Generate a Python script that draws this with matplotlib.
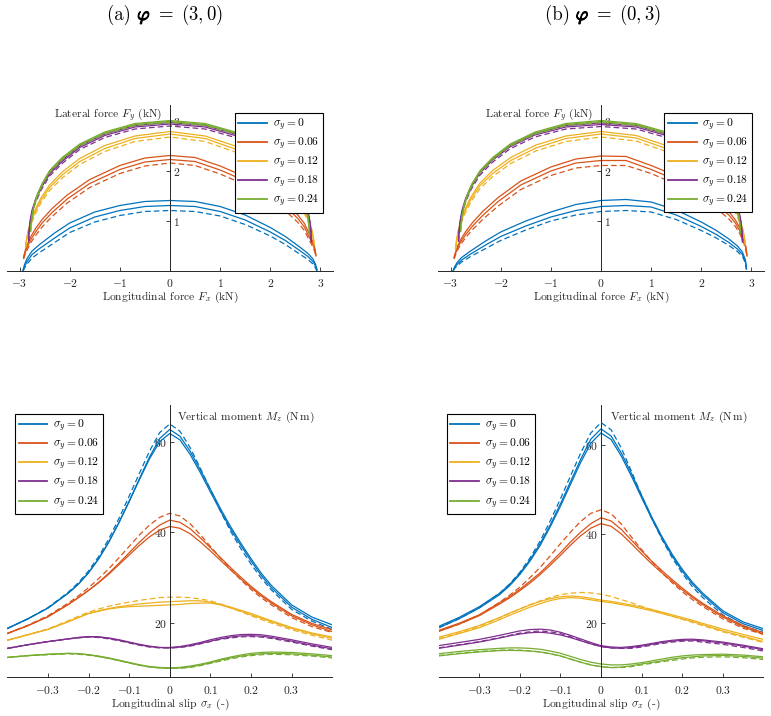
import matplotlib
matplotlib.use('Agg')
import matplotlib.pyplot as plt
from matplotlib.lines import Line2D
from matplotlib.offsetbox import TextArea, HPacker, AnchoredOffsetbox
from matplotlib import patheffects

plt.rcParams['font.family'] = 'serif'
plt.rcParams['font.serif'] = ['cmr10']
plt.rcParams['mathtext.fontset'] = 'cm'
plt.rcParams['axes.formatter.use_mathtext'] = True

# ---------------- data ----------------
COLORS = ['#0072BD', '#D95319', '#EDB120', '#7E2F8E', '#77AC30']
SIGMA_Y = ['0', '0.06', '0.12', '0.18', '0.24']
TITLE_TAGS = ['(a)', '(b)']
TITLE_PHI = ['(3,0)', '(0,3)']

XT_TOP = [-3, -2, -1, 0, 1, 2, 3]
YT_TOP = [1, 2, 3]
XT_BOT = [-0.3, -0.2, -0.1, 0, 0.1, 0.2, 0.3]
YT_BOT = [20, 40, 60]

# panel (a): lateral force Fy vs longitudinal force Fx (kN)
A_X_BLUE = [-2.93, -2.9, -2.85, -2.75, -2.6, -2.3, -2.0, -1.5, -1.0, -0.5, 0.0, 0.5, 1.0, 1.5, 2.0, 2.3, 2.6, 2.75, 2.85, 2.9, 2.93]
A_BLUE_1 = [0.02, 0.13, 0.25, 0.40, 0.53, 0.76, 0.96, 1.18, 1.31, 1.39, 1.41, 1.39, 1.29, 1.12, 0.87, 0.69, 0.47, 0.35, 0.24, 0.14, 0.03]
A_BLUE_2 = [0.01, 0.09, 0.19, 0.33, 0.45, 0.66, 0.86, 1.08, 1.21, 1.29, 1.31, 1.29, 1.19, 1.02, 0.78, 0.61, 0.40, 0.29, 0.19, 0.10, 0.01]
A_BLUE_D = [0.00, 0.06, 0.14, 0.26, 0.37, 0.57, 0.77, 0.98, 1.11, 1.19, 1.21, 1.19, 1.10, 0.93, 0.70, 0.53, 0.33, 0.23, 0.14, 0.06, 0.00]

A_X_ORANGE = [-2.92, -2.89, -2.85, -2.78, -2.68, -2.55, -2.35, -2.05, -1.6, -1.0, -0.5, 0.0, 0.5, 1.0, 1.6, 2.05, 2.35, 2.55, 2.68, 2.78, 2.85, 2.89, 2.91]
A_ORANGE_1 = [0.28, 0.40, 0.52, 0.68, 0.85, 1.03, 1.25, 1.52, 1.83, 2.11, 2.26, 2.31, 2.27, 2.10, 1.84, 1.55, 1.32, 1.12, 0.95, 0.74, 0.58, 0.45, 0.32]
A_ORANGE_2 = [0.26, 0.36, 0.47, 0.62, 0.78, 0.96, 1.17, 1.44, 1.75, 2.03, 2.18, 2.23, 2.19, 2.02, 1.76, 1.47, 1.24, 1.05, 0.88, 0.67, 0.53, 0.42, 0.30]
A_ORANGE_D = [0.24, 0.33, 0.42, 0.56, 0.71, 0.88, 1.09, 1.36, 1.67, 1.95, 2.10, 2.16, 2.11, 1.94, 1.68, 1.39, 1.16, 0.97, 0.81, 0.61, 0.48, 0.38, 0.28]

A_X_YELLOW = [-2.88, -2.86, -2.83, -2.78, -2.7, -2.58, -2.4, -2.15, -1.8, -1.3, -0.7, 0.0, 0.7, 1.3, 1.8, 2.15, 2.4, 2.58, 2.7, 2.78, 2.83, 2.86, 2.88]
A_YELLOW_1 = [0.48, 0.64, 0.80, 0.99, 1.20, 1.45, 1.72, 1.98, 2.25, 2.51, 2.70, 2.79, 2.70, 2.50, 2.24, 1.97, 1.70, 1.43, 1.20, 1.00, 0.82, 0.66, 0.52]
A_YELLOW_2 = [0.47, 0.62, 0.77, 0.95, 1.16, 1.40, 1.67, 1.92, 2.19, 2.45, 2.65, 2.74, 2.65, 2.44, 2.18, 1.91, 1.64, 1.38, 1.16, 0.96, 0.79, 0.64, 0.51]
A_YELLOW_D = [0.46, 0.60, 0.74, 0.91, 1.11, 1.35, 1.61, 1.86, 2.13, 2.39, 2.59, 2.68, 2.59, 2.38, 2.12, 1.85, 1.58, 1.33, 1.11, 0.92, 0.76, 0.62, 0.50]

A_X_PURPLE = [-2.82, -2.81, -2.79, -2.75, -2.68, -2.57, -2.4, -2.15, -1.8, -1.3, -0.7, 0.0, 0.7, 1.3, 1.8, 2.15, 2.4, 2.57, 2.68, 2.75, 2.79, 2.81, 2.82]
A_PURPLE_1 = [0.62, 0.80, 1.00, 1.22, 1.44, 1.69, 1.97, 2.22, 2.50, 2.74, 2.91, 2.97, 2.91, 2.74, 2.49, 2.21, 1.95, 1.68, 1.43, 1.21, 1.00, 0.80, 0.60]
A_PURPLE_2 = [0.60, 0.78, 0.97, 1.19, 1.41, 1.66, 1.94, 2.19, 2.47, 2.71, 2.88, 2.94, 2.88, 2.71, 2.46, 2.18, 1.92, 1.65, 1.40, 1.18, 0.97, 0.78, 0.58]
A_PURPLE_D = [0.58, 0.75, 0.93, 1.15, 1.37, 1.62, 1.90, 2.15, 2.43, 2.67, 2.84, 2.90, 2.84, 2.67, 2.42, 2.14, 1.88, 1.61, 1.36, 1.14, 0.94, 0.75, 0.56]

A_X_GREEN = [-2.78, -2.77, -2.75, -2.71, -2.65, -2.55, -2.4, -2.15, -1.8, -1.3, -0.7, 0.0, 0.7, 1.3, 1.8, 2.15, 2.4, 2.55, 2.65, 2.71, 2.75, 2.77, 2.78]
A_GREEN_1 = [0.80, 0.95, 1.12, 1.32, 1.52, 1.75, 2.01, 2.27, 2.54, 2.78, 2.95, 3.01, 2.95, 2.78, 2.53, 2.26, 1.99, 1.73, 1.50, 1.30, 1.10, 0.93, 0.76]
A_GREEN_2 = [0.79, 0.94, 1.10, 1.30, 1.50, 1.73, 1.99, 2.25, 2.52, 2.76, 2.93, 2.99, 2.93, 2.76, 2.51, 2.24, 1.97, 1.71, 1.48, 1.28, 1.09, 0.92, 0.75]
A_GREEN_D = [0.78, 0.92, 1.08, 1.28, 1.48, 1.71, 1.97, 2.23, 2.50, 2.74, 2.91, 2.97, 2.91, 2.74, 2.49, 2.22, 1.95, 1.69, 1.46, 1.26, 1.07, 0.90, 0.74]

# panel (b)
B_X_BLUE = [-2.95, -2.92, -2.87, -2.78, -2.6, -2.3, -2.0, -1.5, -1.0, -0.5, 0.0, 0.5, 1.0, 1.5, 2.0, 2.3, 2.55, 2.72, 2.82, 2.88, 2.9]
B_BLUE_1 = [0.00, 0.08, 0.17, 0.27, 0.40, 0.60, 0.78, 1.00, 1.18, 1.33, 1.41, 1.43, 1.38, 1.22, 0.98, 0.81, 0.64, 0.50, 0.38, 0.22, 0.05]
B_BLUE_2 = [0.00, 0.06, 0.13, 0.22, 0.34, 0.52, 0.69, 0.90, 1.08, 1.21, 1.29, 1.31, 1.28, 1.12, 0.89, 0.73, 0.57, 0.44, 0.33, 0.19, 0.04]
B_BLUE_D = [0.00, 0.05, 0.10, 0.18, 0.29, 0.45, 0.61, 0.82, 1.00, 1.12, 1.19, 1.21, 1.18, 1.03, 0.81, 0.66, 0.51, 0.39, 0.29, 0.16, 0.03]

B_X_ORANGE = [-2.93, -2.9, -2.86, -2.79, -2.69, -2.56, -2.36, -2.05, -1.6, -1.0, -0.5, 0.0, 0.5, 1.0, 1.6, 2.05, 2.35, 2.55, 2.68, 2.78, 2.85, 2.89, 2.91]
B_ORANGE_1 = [0.28, 0.38, 0.50, 0.64, 0.80, 0.97, 1.19, 1.47, 1.80, 2.08, 2.24, 2.30, 2.29, 2.11, 1.86, 1.58, 1.38, 1.19, 1.02, 0.84, 0.64, 0.48, 0.32]
B_ORANGE_2 = [0.26, 0.35, 0.46, 0.59, 0.74, 0.90, 1.11, 1.39, 1.72, 2.00, 2.16, 2.21, 2.21, 2.03, 1.78, 1.50, 1.30, 1.12, 0.96, 0.78, 0.60, 0.45, 0.30]
B_ORANGE_D = [0.24, 0.32, 0.42, 0.54, 0.68, 0.83, 1.03, 1.30, 1.63, 1.91, 2.06, 2.11, 2.11, 1.95, 1.69, 1.41, 1.21, 1.04, 0.89, 0.72, 0.55, 0.41, 0.28]

B_X_YELLOW = [-2.9, -2.88, -2.85, -2.8, -2.72, -2.6, -2.42, -2.16, -1.8, -1.3, -0.7, 0.0, 0.7, 1.3, 1.8, 2.15, 2.4, 2.58, 2.7, 2.78, 2.83, 2.86, 2.88]
B_YELLOW_1 = [0.45, 0.62, 0.80, 1.00, 1.22, 1.47, 1.75, 2.01, 2.27, 2.52, 2.70, 2.79, 2.71, 2.51, 2.25, 1.98, 1.71, 1.44, 1.21, 1.01, 0.83, 0.67, 0.55]
B_YELLOW_2 = [0.44, 0.60, 0.77, 0.96, 1.18, 1.42, 1.70, 1.95, 2.21, 2.46, 2.65, 2.74, 2.66, 2.45, 2.19, 1.92, 1.66, 1.39, 1.17, 0.97, 0.80, 0.65, 0.53]
B_YELLOW_D = [0.43, 0.58, 0.74, 0.92, 1.13, 1.37, 1.64, 1.89, 2.15, 2.40, 2.59, 2.68, 2.60, 2.39, 2.13, 1.86, 1.60, 1.34, 1.12, 0.93, 0.77, 0.63, 0.51]

B_X_PURPLE = [-2.84, -2.83, -2.81, -2.77, -2.7, -2.59, -2.42, -2.17, -1.82, -1.32, -0.7, 0.0, 0.7, 1.3, 1.8, 2.15, 2.4, 2.57, 2.68, 2.75, 2.79, 2.81, 2.82]
B_PURPLE_1 = [0.62, 0.80, 1.00, 1.22, 1.45, 1.70, 1.98, 2.24, 2.51, 2.75, 2.91, 2.96, 2.91, 2.74, 2.49, 2.21, 1.95, 1.68, 1.43, 1.21, 1.00, 0.80, 0.60]
B_PURPLE_2 = [0.60, 0.78, 0.97, 1.19, 1.42, 1.67, 1.95, 2.21, 2.48, 2.72, 2.88, 2.93, 2.88, 2.71, 2.46, 2.18, 1.92, 1.65, 1.40, 1.18, 0.97, 0.78, 0.58]
B_PURPLE_D = [0.58, 0.75, 0.93, 1.15, 1.38, 1.63, 1.91, 2.17, 2.44, 2.68, 2.84, 2.89, 2.84, 2.67, 2.42, 2.14, 1.88, 1.61, 1.36, 1.14, 0.94, 0.75, 0.56]

B_X_GREEN = [-2.8, -2.79, -2.77, -2.73, -2.67, -2.57, -2.41, -2.16, -1.81, -1.31, -0.7, 0.0, 0.7, 1.3, 1.8, 2.15, 2.4, 2.55, 2.65, 2.71, 2.75, 2.77, 2.78]
B_GREEN_1 = [0.80, 0.95, 1.12, 1.32, 1.52, 1.75, 2.01, 2.27, 2.54, 2.78, 2.95, 3.01, 2.95, 2.78, 2.53, 2.26, 1.99, 1.73, 1.50, 1.30, 1.10, 0.93, 0.76]
B_GREEN_2 = [0.79, 0.94, 1.10, 1.30, 1.50, 1.73, 1.99, 2.25, 2.52, 2.76, 2.93, 2.99, 2.93, 2.76, 2.51, 2.24, 1.97, 1.71, 1.48, 1.28, 1.09, 0.92, 0.75]
B_GREEN_D = [0.78, 0.92, 1.08, 1.28, 1.48, 1.71, 1.97, 2.23, 2.50, 2.74, 2.91, 2.97, 2.91, 2.74, 2.49, 2.22, 1.95, 1.69, 1.46, 1.26, 1.07, 0.90, 0.74]

# panels (c), (d): vertical moment Mz (N m) vs longitudinal slip
SX = [-0.4, -0.35, -0.3, -0.25, -0.225, -0.2, -0.175, -0.15, -0.125, -0.1, -0.075, -0.05, -0.025, 0.0,
      0.025, 0.05, 0.075, 0.1, 0.125, 0.15, 0.175, 0.2, 0.225, 0.25, 0.3, 0.35, 0.4]

C_BLUE_1 = [18.8, 20.9, 23.3, 26.6, 28.6, 31.1, 34.2, 37.9, 42.2, 46.9, 51.8, 56.6, 60.7, 62.7, 61.2, 57.9, 53.8, 49.5, 45.2, 41.2, 37.6, 34.2, 31.0, 28.3, 24.0, 21.3, 19.6]
C_BLUE_2 = [18.8, 20.9, 23.3, 26.6, 28.6, 31.1, 34.2, 37.9, 42.2, 46.8, 51.6, 56.2, 60.0, 61.8, 60.4, 57.2, 53.2, 48.9, 44.7, 40.7, 37.1, 33.7, 30.5, 27.8, 23.5, 20.8, 19.0]
C_BLUE_D = [18.8, 20.9, 23.4, 26.8, 28.9, 31.5, 34.7, 38.6, 43.1, 48.0, 53.0, 57.9, 62.0, 63.9, 62.3, 58.7, 54.2, 49.4, 44.6, 40.2, 36.4, 33.0, 29.9, 27.3, 23.0, 20.4, 18.6]
C_ORANGE_1 = [17.7, 19.4, 21.4, 24.1, 25.6, 27.2, 29.0, 31.0, 33.2, 35.5, 37.8, 39.9, 41.6, 42.7, 42.2, 40.8, 38.8, 36.6, 34.4, 32.2, 30.1, 28.1, 26.3, 24.7, 21.9, 19.9, 18.5]
C_ORANGE_2 = [17.7, 19.4, 21.4, 24.1, 25.6, 27.2, 28.9, 30.8, 32.9, 35.0, 37.1, 39.0, 40.5, 41.3, 40.9, 39.7, 37.9, 35.9, 33.8, 31.7, 29.7, 27.8, 26.0, 24.4, 21.6, 19.6, 18.1]
C_ORANGE_D = [17.7, 19.5, 21.6, 24.4, 26.0, 27.8, 29.8, 32.0, 34.4, 36.9, 39.4, 41.6, 43.3, 44.2, 43.6, 41.9, 39.5, 36.9, 34.3, 31.8, 29.5, 27.4, 25.6, 24.0, 21.2, 19.2, 17.9]
C_YELLOW_1 = [16.2, 17.4, 18.6, 20.3, 21.2, 22.1, 22.7, 23.2, 23.6, 23.9, 24.2, 24.4, 24.6, 24.7, 24.8, 24.9, 24.9, 24.6, 24.1, 23.5, 22.8, 22.1, 21.3, 20.5, 19.0, 17.8, 16.9]
C_YELLOW_2 = [16.2, 17.4, 18.6, 20.3, 21.2, 22.1, 22.6, 23.1, 23.4, 23.6, 23.7, 23.8, 23.9, 24.0, 24.1, 24.3, 24.4, 24.4, 24.0, 23.3, 22.6, 21.8, 21.1, 20.3, 18.8, 17.6, 16.6]
C_YELLOW_D = [16.2, 17.4, 18.7, 20.5, 21.5, 22.4, 23.1, 23.7, 24.2, 24.6, 25.0, 25.3, 25.6, 25.7, 25.7, 25.6, 25.3, 24.9, 24.2, 23.4, 22.5, 21.6, 20.8, 20.0, 18.5, 17.3, 16.2]
C_PURPLE_1 = [14.4, 15.2, 15.9, 16.5, 16.8, 17.0, 16.95, 16.7, 16.3, 15.8, 15.3, 14.9, 14.6, 14.6, 14.8, 15.2, 15.7, 16.3, 16.8, 17.2, 17.45, 17.5, 17.4, 17.1, 16.3, 15.4, 14.6]
C_PURPLE_2 = [14.4, 15.2, 15.9, 16.5, 16.8, 17.0, 16.9, 16.6, 16.2, 15.7, 15.2, 14.8, 14.6, 14.5, 14.7, 15.0, 15.5, 16.0, 16.5, 16.9, 17.15, 17.2, 17.1, 16.8, 16.0, 15.1, 14.3]
C_PURPLE_D = [14.4, 15.2, 15.9, 16.5, 16.7, 16.9, 16.8, 16.5, 16.1, 15.6, 15.1, 14.7, 14.5, 14.5, 14.6, 14.9, 15.4, 15.9, 16.4, 16.7, 16.95, 17.0, 16.9, 16.6, 15.8, 14.9, 14.1]
C_GREEN_1 = [12.4, 12.8, 13.1, 13.3, 13.25, 13.0, 12.7, 12.3, 11.8, 11.3, 10.8, 10.4, 10.2, 10.1, 10.2, 10.5, 10.9, 11.4, 12.0, 12.5, 12.95, 13.3, 13.5, 13.6, 13.5, 13.2, 12.8]
C_GREEN_2 = [12.4, 12.8, 13.1, 13.3, 13.2, 13.0, 12.6, 12.2, 11.7, 11.2, 10.7, 10.3, 10.1, 10.0, 10.1, 10.3, 10.7, 11.2, 11.8, 12.3, 12.7, 13.0, 13.2, 13.3, 13.2, 12.9, 12.5]
C_GREEN_D = [12.4, 12.8, 13.0, 13.2, 13.1, 12.9, 12.6, 12.2, 11.7, 11.2, 10.7, 10.3, 10.1, 10.0, 10.0, 10.2, 10.6, 11.1, 11.6, 12.1, 12.5, 12.8, 13.0, 13.1, 13.0, 12.7, 12.3]

D_BLUE_1 = [19.3, 21.3, 23.7, 26.7, 28.7, 31.2, 34.2, 37.8, 42.0, 46.7, 51.7, 56.7, 61.2, 63.5, 61.9, 58.1, 53.5, 48.6, 43.8, 39.4, 35.5, 32.1, 29.2, 26.8, 22.8, 20.3, 18.8]
D_BLUE_2 = [19.0, 21.0, 23.4, 26.4, 28.4, 30.9, 33.9, 37.4, 41.6, 46.2, 51.1, 56.0, 60.3, 62.6, 61.1, 57.4, 52.9, 48.1, 43.4, 39.0, 35.1, 31.7, 28.8, 26.4, 22.4, 19.9, 18.4]
D_BLUE_D = [19.0, 21.0, 23.5, 26.7, 28.8, 31.4, 34.6, 38.4, 42.9, 47.8, 53.0, 58.1, 62.6, 64.9, 63.3, 59.2, 54.0, 48.6, 43.5, 38.8, 34.7, 31.2, 28.2, 25.8, 21.9, 19.4, 18.0]
D_ORANGE_1 = [18.4, 20.0, 21.9, 24.6, 26.0, 27.6, 29.4, 31.3, 33.5, 35.8, 38.2, 40.4, 42.3, 43.6, 42.9, 41.0, 38.6, 36.2, 33.9, 31.8, 29.8, 27.9, 26.1, 24.5, 21.7, 19.5, 17.9]
D_ORANGE_2 = [18.2, 19.8, 21.7, 24.3, 25.7, 27.3, 29.0, 30.9, 33.0, 35.2, 37.5, 39.6, 41.3, 42.3, 41.7, 40.0, 37.8, 35.5, 33.3, 31.3, 29.4, 27.5, 25.8, 24.2, 21.4, 19.2, 17.6]
D_ORANGE_D = [18.2, 19.8, 21.8, 24.7, 26.3, 28.1, 30.2, 32.5, 35.1, 37.8, 40.4, 42.8, 44.6, 45.4, 44.5, 42.2, 39.3, 36.5, 33.8, 31.3, 29.1, 27.1, 25.3, 23.8, 21.0, 18.9, 17.5]
D_YELLOW_1 = [16.9, 18.1, 19.5, 21.3, 22.3, 23.2, 24.1, 24.9, 25.5, 25.95, 26.1, 25.95, 25.6, 25.2, 24.9, 24.5, 24.1, 23.6, 23.1, 22.5, 21.9, 21.3, 20.7, 20.0, 18.7, 17.5, 16.4]
D_YELLOW_2 = [16.4, 17.7, 19.0, 20.8, 21.8, 22.7, 23.6, 24.4, 25.1, 25.55, 25.75, 25.6, 25.25, 24.9, 24.6, 24.2, 23.8, 23.3, 22.8, 22.2, 21.6, 21.0, 20.4, 19.7, 18.3, 17.1, 15.9]
D_YELLOW_D = [16.6, 17.8, 19.3, 21.2, 22.2, 23.2, 24.2, 25.0, 25.8, 26.4, 26.75, 26.9, 26.8, 26.5, 26.0, 25.3, 24.6, 23.8, 23.0, 22.3, 21.6, 20.9, 20.2, 19.5, 18.1, 16.9, 15.7]
D_PURPLE_1 = [15.0, 15.7, 16.4, 17.3, 17.8, 18.3, 18.6, 18.7, 18.5, 18.0, 17.3, 16.5, 15.7, 15.0, 14.7, 14.6, 14.8, 15.1, 15.5, 15.9, 16.2, 16.4, 16.45, 16.3, 15.8, 15.1, 14.3]
D_PURPLE_2 = [14.4, 15.1, 15.8, 16.7, 17.2, 17.6, 17.9, 18.0, 17.8, 17.4, 16.8, 16.1, 15.4, 14.8, 14.5, 14.4, 14.6, 14.9, 15.3, 15.7, 16.0, 16.2, 16.25, 16.1, 15.6, 14.9, 14.1]
D_PURPLE_D = [14.5, 15.2, 15.9, 16.8, 17.3, 17.8, 18.1, 18.3, 18.1, 17.7, 17.0, 16.2, 15.4, 14.8, 14.5, 14.4, 14.4, 14.7, 15.1, 15.5, 15.8, 16.0, 16.05, 15.8, 15.3, 14.6, 13.8]
D_GREEN_1 = [13.2, 13.7, 14.1, 14.4, 14.5, 14.5, 14.4, 14.2, 13.8, 13.3, 12.6, 11.9, 11.3, 10.9, 10.7, 10.7, 10.9, 11.2, 11.6, 12.0, 12.4, 12.7, 12.9, 13.0, 13.1, 12.9, 12.5]
D_GREEN_2 = [12.7, 13.2, 13.6, 13.9, 13.95, 13.9, 13.8, 13.6, 13.2, 12.7, 12.0, 11.3, 10.7, 10.3, 10.1, 10.2, 10.5, 10.9, 11.25, 11.6, 12.0, 12.3, 12.5, 12.7, 12.8, 12.6, 12.2]
D_GREEN_D = [12.8, 13.3, 13.7, 14.0, 14.05, 14.0, 13.85, 13.6, 13.2, 12.7, 12.0, 11.3, 10.7, 10.3, 10.1, 10.1, 10.3, 10.7, 11.05, 11.4, 11.7, 12.0, 12.25, 12.4, 12.5, 12.3, 11.9]

# ---------------- styling ----------------
TXT = '#262626'
LW = 0.9
DASH = (0, (4.5, 2.5))
FS = 8.3
TFS = 13.5

fig = plt.figure(figsize=(7.71, 7.16), dpi=100)
W, H = 771.0, 716.0


def add_axes(left_px, top_px, w_px, h_px):
    return fig.add_axes([left_px / W, 1 - (top_px + h_px) / H, w_px / W, h_px / H])


def style_axes(ax, top_panel):
    ax.set_facecolor('none')
    ax.spines['top'].set_visible(False)
    if top_panel:
        ax.spines['left'].set_visible(False)
        ax.spines['right'].set_position(('data', 0))
        ax.yaxis.set_ticks_position('right')
    else:
        ax.spines['right'].set_visible(False)
        ax.spines['left'].set_position(('data', 0))
        ax.yaxis.set_ticks_position('left')
    for s in ax.spines.values():
        s.set_color(TXT)
        s.set_linewidth(0.7)
    ax.xaxis.set_ticks_position('bottom')
    ax.tick_params(axis='both', direction='in', length=3, width=0.6,
                   colors=TXT, labelsize=FS)
    ax.tick_params(axis='x', pad=4.5)
    ax.tick_params(axis='y', pad=2)


def legend(ax, loc, anchor):
    handles = [Line2D([], [], color=c, lw=1.3) for c in COLORS]
    labels = [r'$\sigma_y = %s$' % s for s in SIGMA_Y]
    leg = ax.legend(handles, labels, loc=loc, bbox_to_anchor=anchor,
                    fontsize=FS, frameon=True, fancybox=False, framealpha=1,
                    edgecolor='#000000', borderpad=0.3, labelspacing=0.22,
                    handlelength=2.5, handletextpad=0.5, borderaxespad=0)
    leg.get_frame().set_linewidth(0.8)
    leg.set_zorder(5)


def fmt(v):
    return r'$%g$' % v


def title(i, x_px):
    bold = [patheffects.withStroke(linewidth=0.9, foreground='black')]
    parts = [
        TextArea(TITLE_TAGS[i] + ' ', textprops=dict(fontsize=TFS, color='black')),
        TextArea(r'$\varphi$', textprops=dict(fontsize=TFS, color='black', path_effects=bold)),
        TextArea(r'$\;=\;%s$' % TITLE_PHI[i], textprops=dict(fontsize=TFS, color='black')),
    ]
    box = HPacker(children=parts, align='baseline', pad=0, sep=0)
    anc = AnchoredOffsetbox(loc='center', child=box, pad=0, borderpad=0, frameon=False,
                            bbox_to_anchor=(x_px / W, 1 - 15.0 / H),
                            bbox_transform=fig.transFigure)
    fig.add_artist(anc)


top_data = [
    [(A_X_BLUE, A_BLUE_1, A_BLUE_2, A_BLUE_D),
     (A_X_ORANGE, A_ORANGE_1, A_ORANGE_2, A_ORANGE_D),
     (A_X_YELLOW, A_YELLOW_1, A_YELLOW_2, A_YELLOW_D),
     (A_X_PURPLE, A_PURPLE_1, A_PURPLE_2, A_PURPLE_D),
     (A_X_GREEN, A_GREEN_1, A_GREEN_2, A_GREEN_D)],
    [(B_X_BLUE, B_BLUE_1, B_BLUE_2, B_BLUE_D),
     (B_X_ORANGE, B_ORANGE_1, B_ORANGE_2, B_ORANGE_D),
     (B_X_YELLOW, B_YELLOW_1, B_YELLOW_2, B_YELLOW_D),
     (B_X_PURPLE, B_PURPLE_1, B_PURPLE_2, B_PURPLE_D),
     (B_X_GREEN, B_GREEN_1, B_GREEN_2, B_GREEN_D)],
]
bot_data = [
    [(C_BLUE_1, C_BLUE_2, C_BLUE_D), (C_ORANGE_1, C_ORANGE_2, C_ORANGE_D),
     (C_YELLOW_1, C_YELLOW_2, C_YELLOW_D), (C_PURPLE_1, C_PURPLE_2, C_PURPLE_D),
     (C_GREEN_1, C_GREEN_2, C_GREEN_D)],
    [(D_BLUE_1, D_BLUE_2, D_BLUE_D), (D_ORANGE_1, D_ORANGE_2, D_ORANGE_D),
     (D_YELLOW_1, D_YELLOW_2, D_YELLOW_D), (D_PURPLE_1, D_PURPLE_2, D_PURPLE_D),
     (D_GREEN_1, D_GREEN_2, D_GREEN_D)],
]

top_left_px = [7.0, 438.0]
bot_left_px = [7.4, 438.6]
bot_ylims = [(8.0, 68.0), (7.9, 68.75)]
title_x = [165.0, 603.0]
top_leg_anchor = [(0.969, 0.952), (0.964, 0.954)]
bot_leg_anchor = [(0.0237, 0.968), (0.025, 0.968)]
mz_label_pos = [(0.017, 65.4), (0.022, 66.0)]

for i in range(2):
    # ---- force diagram ----
    ax = add_axes(top_left_px[i], 105.0, 326.0, 166.0)
    style_axes(ax, True)
    for color, (x, y1, y2, yd) in zip(COLORS, top_data[i]):
        ax.plot(x, y1, color=color, lw=LW)
        ax.plot(x, y2, color=color, lw=LW)
        ax.plot(x, yd, color=color, lw=LW, ls=DASH)
    ax.set_xlim(-3.25, 3.25)
    ax.set_ylim(0, 3.32)
    ax.set_xticks(XT_TOP)
    ax.set_xticklabels([fmt(v) for v in XT_TOP])
    ax.set_yticks(YT_TOP)
    ax.set_yticklabels([fmt(v) for v in YT_TOP])
    ax.text(-0.15, 3.12, r'Lateral force $F_y$ (kN)', ha='right', va='center',
            fontsize=FS, color=TXT)
    ax.text(0.5, -0.157, r'Longitudinal force $F_x$ (kN)', transform=ax.transAxes,
            ha='center', va='center', fontsize=FS, color=TXT)
    legend(ax, 'upper right', top_leg_anchor[i])

    # ---- aligning moment ----
    ax = add_axes(bot_left_px[i], 405.4, 324.8, 272.0)
    style_axes(ax, False)
    for color, (y1, y2, yd) in zip(COLORS, bot_data[i]):
        ax.plot(SX, y1, color=color, lw=LW)
        ax.plot(SX, y2, color=color, lw=LW)
        ax.plot(SX, yd, color=color, lw=LW, ls=DASH)
    ax.set_xlim(-0.4, 0.4)
    ax.set_ylim(*bot_ylims[i])
    ax.set_xticks(XT_BOT)
    ax.set_xticklabels([fmt(v) for v in XT_BOT])
    ax.set_yticks(YT_BOT)
    ax.set_yticklabels([fmt(v) for v in YT_BOT])
    ax.text(mz_label_pos[i][0], mz_label_pos[i][1],
            r'Vertical moment $M_z$ ($\mathrm{N\,m}$)', ha='left', va='center',
            fontsize=FS, color=TXT)
    ax.text(0.5, -0.098, r'Longitudinal slip $\sigma_x$ (-)', transform=ax.transAxes,
            ha='center', va='center', fontsize=FS, color=TXT)
    legend(ax, 'upper left', bot_leg_anchor[i])

    title(i, title_x[i])

fig.savefig('out.png', dpi=100)
